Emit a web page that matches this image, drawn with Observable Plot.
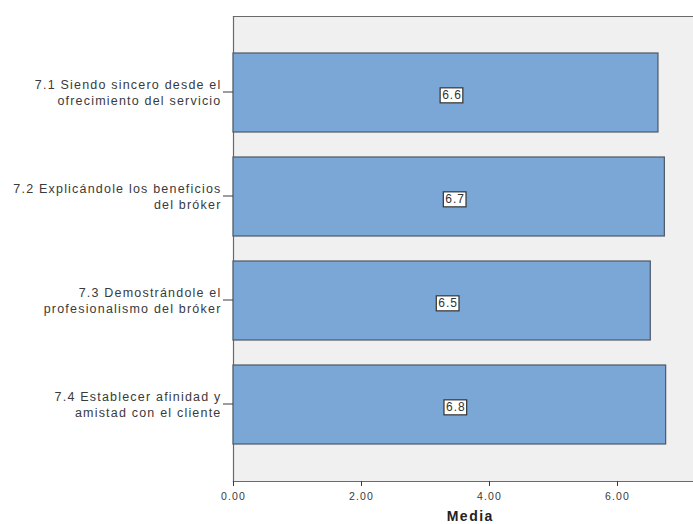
<!DOCTYPE html>
<html>
<head>
<meta charset="utf-8">
<script src="https://cdn.jsdelivr.net/npm/d3@7"></script>
<script src="https://cdn.jsdelivr.net/npm/@observablehq/plot@0.6"></script>
<style>
  html, body { margin: 0; padding: 0; background: #fff; overflow: hidden; }
  #chart svg text { letter-spacing: 1px; }
  #chart svg g[aria-label="y-axis tick label"] text { letter-spacing: 1.2px; }
  #chart svg g[aria-label="x-axis tick label"] text { letter-spacing: 1.2px; }
  #chart svg g.media-label text { letter-spacing: 1.5px; }
</style>
</head>
<body>
<div id="chart"></div>
<script>
// Survey items (top to bottom) and their mean scores
const categories = [
  "7.1 Siendo sincero desde el\nofrecimiento del servicio",
  "7.2 Explicándole los beneficios\ndel bróker",
  "7.3 Demostrándole el\nprofesionalismo del bróker",
  "7.4 Establecer afinidad y\namistad con el cliente"
];
const means = [6.64, 6.74, 6.52, 6.76];
const xTicks = [0, 2, 4, 6];
const axisTitle = "Media";

const data = categories.map((category, i) => ({category, mean: means[i]}));

// The plotting area continues past the right edge of the page (0 – 7.4)
const chart = Plot.plot({
  width: 693,
  height: 524,
  marginLeft: 233,
  marginRight: 0,
  marginTop: 16,
  marginBottom: 43,
  style: {
    fontFamily: "'Liberation Sans', Arial, sans-serif",
    color: "#3a3a3a",
    background: "#fff"
  },
  x: {domain: [0, 7.4], range: [233, 233 + 7.4 * 64]},
  y: {domain: categories, paddingInner: 0.245, paddingOuter: 0.35},
  marks: [
    Plot.frame({fill: "#f0f0f0", stroke: null}),
    Plot.frame({anchor: "top", stroke: "#6a6a6a", strokeWidth: 1.2}),
    Plot.frame({anchor: "left", stroke: "#6a6a6a", strokeWidth: 1.2}),
    Plot.frame({anchor: "bottom", stroke: "#6a6a6a", strokeWidth: 1.2}),
    Plot.barX(data, {
      x: "mean", y: "category",
      fill: "#7aa7d6", stroke: "#4d5866", strokeWidth: 1.2
    }),
    Plot.text(data, {
      x: d => d.mean / 2, y: "category",
      text: d => d3.format(".1f")(d.mean),
      dx: 6, dy: 2, fontSize: 12, fill: "#333",
      className: "val-label"
    }),
    Plot.axisX(xTicks, {
      tickFormat: d3.format(".2f"),
      tickSize: 5, tickPadding: 6, fontSize: 10.5,
      label: null
    }),
    Plot.text([axisTitle], {
      text: d => d,
      x: () => 7.4 / 2,
      frameAnchor: "bottom", lineAnchor: "bottom",
      dy: 39, fontSize: 14, fontWeight: "bold", fill: "#222",
      className: "media-label"
    }),
    Plot.axisY({
      tickSize: 10, tickPadding: 2, fontSize: 12.5,
      lineHeight: 1.25, dy: -1, label: null
    })
  ]
});

document.getElementById("chart").append(chart);

// White boxes with a dark outline behind the value labels
chart.querySelectorAll("g.val-label text").forEach(t => {
  const b = t.getBBox();
  const r = document.createElementNS("http://www.w3.org/2000/svg", "rect");
  r.setAttribute("x", b.x - 2);
  r.setAttribute("y", b.y);
  r.setAttribute("width", b.width + 3);
  r.setAttribute("height", b.height + 1);
  r.setAttribute("fill", "#fff");
  r.setAttribute("stroke", "#333");
  r.setAttribute("stroke-width", 1.2);
  const tr = t.getAttribute("transform");
  if (tr) r.setAttribute("transform", tr);
  t.parentNode.insertBefore(r, t);
});
</script>
</body>
</html>
